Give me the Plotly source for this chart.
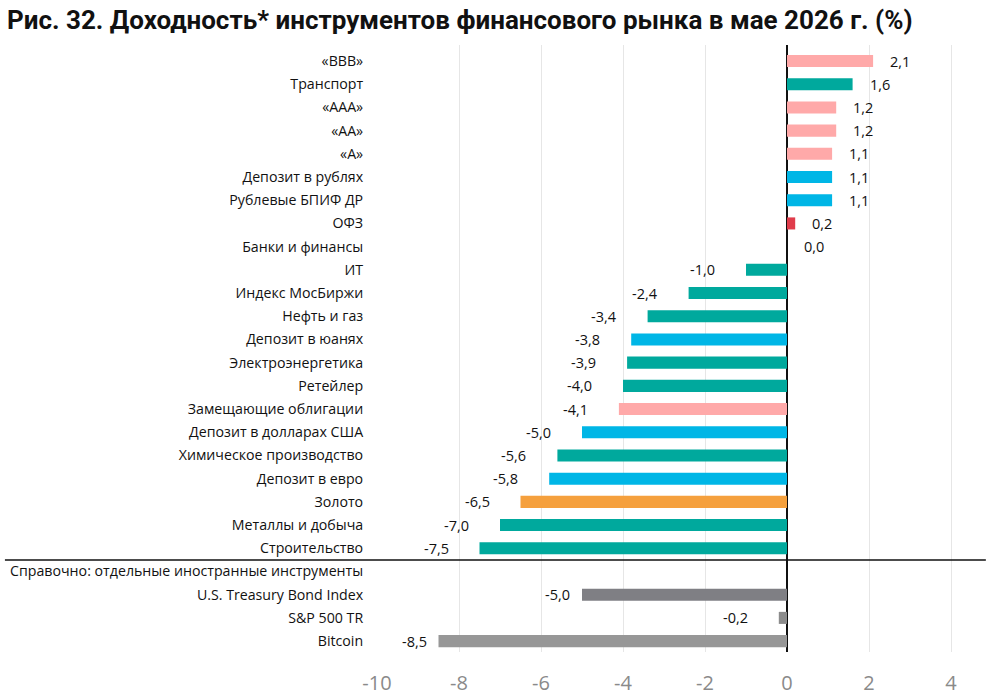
import plotly.graph_objects as go

title = "Рис. 32. Доходность* инструментов финансового рынка в мае 2026 г. (%)"

categories = [
    "«BBB»", "Транспорт", "«AAA»", "«AA»", "«A»", "Депозит в рублях",
    "Рублевые БПИФ ДР", "ОФЗ", "Банки и финансы", "ИТ", "Индекс МосБиржи",
    "Нефть и газ", "Депозит в юанях", "Электроэнергетика", "Ретейлер",
    "Замещающие облигации", "Депозит в долларах США", "Химическое производство",
    "Депозит в евро", "Золото", "Металлы и добыча", "Строительство",
    "Справочно: отдельные иностранные инструменты",
    "U.S. Treasury Bond Index", "S&P 500 TR", "Bitcoin",
]
values = [
    2.1, 1.6, 1.2, 1.2, 1.1, 1.1, 1.1, 0.2, 0.0, -1.0, -2.4, -3.4, -3.8, -3.9,
    -4.0, -4.1, -5.0, -5.6, -5.8, -6.5, -7.0, -7.5, None, -5.0, -0.2, -8.5,
]
groups = [
    "bond", "equity", "bond", "bond", "bond", "deposit", "deposit", "ofz",
    "equity", "equity", "equity", "equity", "deposit", "equity", "equity",
    "bond", "deposit", "equity", "deposit", "gold", "equity", "equity",
    None, "ust", "spx", "btc",
]
xticks = [-10, -8, -6, -4, -2, 0, 2, 4]

colors = {
    "bond": "#FFA9A9", "equity": "#00A99D", "deposit": "#00B6E6",
    "ofz": "#E03C4B", "gold": "#F5A03D", "ust": "#7F7F84",
    "spx": "#8C8C8C", "btc": "#979797", None: "rgba(0,0,0,0)",
}
gap_override = {"U.S. Treasury Bond Index": 10, "Bitcoin": 10}

ypos = list(range(len(categories)))
bar_colors = [colors[g] for g in groups]

fig = go.Figure()
fig.add_trace(go.Bar(
    x=[v if v is not None else 0 for v in values], y=ypos, orientation="h",
    marker=dict(color=bar_colors, line=dict(width=0)), width=0.52,
    hoverinfo="skip",
))

font_main = "Open Sans"
annotations = []
for c, v, y in zip(categories, values, ypos):
    if v is None:
        continue
    txt = f"{v:.1f}".replace(".", ",")
    if v >= 0:
        annotations.append(dict(x=v, y=y, text=txt, showarrow=False, xanchor="left",
                                xshift=15, font=dict(size=14.5, color="#111", family=font_main)))
    else:
        gap = gap_override.get(c, 29)
        annotations.append(dict(x=v, y=y, text=txt, showarrow=False, xanchor="right",
                                xshift=-gap, font=dict(size=14.5, color="#111", family=font_main)))

annotations.append(dict(x=-372 / 615, y=1 + 25 / 607, xref="paper", yref="paper",
                        xanchor="left", yanchor="middle",
                        text=f"<b>{title}</b>", showarrow=False,
                        font=dict(size=26, color="#111", family="Roboto")))

fig.update_layout(
    width=1000, height=698, paper_bgcolor="white", plot_bgcolor="white",
    margin=dict(l=377, r=8, t=45, b=46), showlegend=False,
    annotations=annotations,
    shapes=[dict(type="line", xref="paper", yref="y", x0=-0.605, x1=0.99,
                 y0=21.5, y1=21.5, line=dict(color="#111", width=1.5))],
    font=dict(family=font_main, color="#111"),
)

fig.update_xaxes(
    range=[-10, 5], tickvals=xticks, ticktext=[str(t) for t in xticks],
    showgrid=True, gridcolor="#E6E6E6", gridwidth=1,
    zeroline=True, zerolinecolor="#111", zerolinewidth=1.5,
    tickfont=dict(size=20, color="#8A8A8A", family=font_main),
    ticks="outside", ticklen=13, tickcolor="rgba(0,0,0,0)", showline=False,
    automargin=False,
)
fig.update_yaxes(
    range=[25.47, -0.69], tickvals=ypos, ticktext=categories,
    showgrid=False, zeroline=False, ticks="outside", ticklen=10,
    tickcolor="rgba(0,0,0,0)", tickfont=dict(size=14.2, color="#111", family=font_main),
    automargin=False,
)

fig.write_html("out.html")
